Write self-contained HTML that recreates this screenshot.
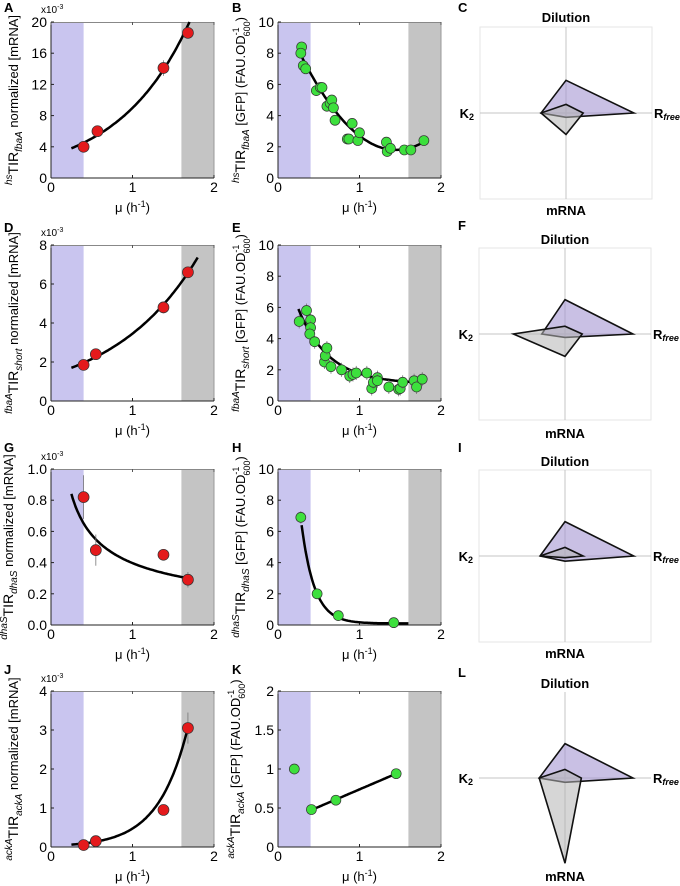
<!DOCTYPE html>
<html><head><meta charset="utf-8"><style>
html,body{margin:0;padding:0;background:#fff;}
svg{display:block;font-family:"Liberation Sans",Arial,sans-serif;}
</style></head><body>
<svg id="fig" width="680" height="886" viewBox="0 0 680 886" xmlns="http://www.w3.org/2000/svg"></svg>
<script>
// ---- Panel A ----
const aX=[0.4,0.57,1.38,1.68];
const aY=[4,6,14.1,18.6];
const aFit=[2.855,1.146,0.25,1.7]; // a*exp(b*x) from x0 to x1
const aTicks=["0","4","8","12","16","20"];
// ---- Panel B ----
const bX=[0.29,0.28,0.31,0.34,0.47,0.52,0.54,0.6,0.64,0.66,0.68,0.7,0.85,0.87,0.91,0.98,1.0,1.33,1.34,1.38,1.55,1.63,1.79];
const bY=[8.4,8.0,7.2,7.0,5.6,5.8,5.8,4.6,4.8,5.0,4.5,3.7,2.5,2.5,3.5,2.4,2.9,2.3,1.7,1.9,1.8,1.8,2.4];
const bFit=[1.8,4.45,1.45,0.28,1.76]; // min + k*(x-xm)^2
const bTicks=["0","2","4","6","8","10"];
// ---- Panel D ----
const dX=[0.4,0.55,1.38,1.68];
const dY=[1.85,2.4,4.8,6.6];
const dFit=[1.343,0.945,0.25,1.8];
const dTicks=["0","2","4","6","8"];
// ---- Panel E ----
const eX=[0.26,0.35,0.4,0.4,0.39,0.45,0.57,0.58,0.6,0.65,0.78,0.88,0.92,0.96,1.09,1.15,1.17,1.22,1.22,1.36,1.48,1.5,1.53,1.67,1.7,1.77];
const eY=[5.1,5.8,5.2,4.7,4.3,3.8,2.5,2.9,3.4,2.2,2.0,1.6,1.7,1.8,1.8,0.8,1.2,1.5,1.3,0.9,0.75,0.8,1.2,1.3,0.9,1.4];
const eFit=[1.1,4.8,2.65,0.25,1.8]; // base + c*exp(-k(x-x0))
const eTicks=["0","2","4","6","8","10"];
// ---- Panel G ----
const gX=[0.4,0.55,1.38,1.68];
const gY=[0.82,0.48,0.45,0.29];
const gErr=[0.14,0.1,0.02,0.05];
const gFit=[0.397,0.541,0.25,1.68]; // a*x^-p
const gTicks=["0.0","0.2","0.4","0.6","0.8","1.0"];
// ---- Panel H ----
const hX=[0.28,0.48,0.74,1.42];
const hY=[6.9,2.0,0.6,0.15];
const hFit=[0.1,6.3,6.3,0.29,1.6];
const hTicks=["0","2","4","6","8","10"];
// ---- Panel J ----
const jX=[0.4,0.55,1.38,1.68];
const jY=[0.05,0.15,0.95,3.05];
const jErr=[0,0,0,0.4];
const jFit=[0.0302,2.75,0.25,1.68];
const jTicks=["0","1","2","3","4"];
// ---- Panel K ----
const kX=[0.2,0.41,0.71,1.45];
const kY=[1.0,0.48,0.6,0.94];
const kLine=[0.4,0.47,1.45,0.94];
const kTicks=["0","0.5","1","1.5","2"];
// ---- Radars (Dilution, Rfree, mRNA, K2) ----
const radarAxes=["Dilution","Rfree","mRNA","K2"];
const cPurple=[0.38,0.79,0.05,0.29], cGrey=[0.1,0.2,0.25,0.29];
const fPurple=[0.4,0.79,0.04,0.27], fGrey=[0.09,0.2,0.26,0.6];
const iPurple=[0.4,0.8,0.06,0.29], iGrey=[0.1,0.21,0.02,0.29];
const lPurple=[0.4,0.79,0.05,0.3], lGrey=[0.1,0.19,0.99,0.3];

const NS="http://www.w3.org/2000/svg";
const svg=document.getElementById('fig');
function el(tag,attrs,parent){const e=document.createElementNS(NS,tag);for(const k in attrs)e.setAttribute(k,attrs[k]);(parent||svg).appendChild(e);return e;}

function letter(t,x,y){const e=el('text',{x:x,y:y,'font-size':13,'font-weight':'bold'});e.textContent=t;

}

function panel(o){
  const W=163,H=156,L=o.left,T=o.top;
  const g=el('g',{});
  
  
  const sx=v=>L+v/2*W, sy=v=>T+H-(v/o.ymax)*H;
  const b1=el('rect',{x:sx(0),y:T,width:sx(0.4)-sx(0),height:H,fill:'#c9c5ef'},g);
  
  
  const b2=el('rect',{x:sx(1.6),y:T,width:sx(2)-sx(1.6),height:H,fill:'#c4c4c4'},g);
  
  
  el('line',{x1:L,y1:T+0.5,x2:L+W,y2:T+0.5,stroke:'#888','stroke-width':1},g);
  el('line',{x1:L+W,y1:T,x2:L+W,y2:T+H,stroke:'#999','stroke-width':1},g);
  el('line',{x1:L,y1:T,x2:L,y2:T+H,stroke:'#222','stroke-width':1},g);
  el('line',{x1:L,y1:T+H,x2:L+W,y2:T+H,stroke:'#222','stroke-width':1},g);
  [0,1,2].forEach(v=>{
    el('line',{x1:sx(v),y1:T+H,x2:sx(v),y2:T+H-3,stroke:'#222'},g);
    el('line',{x1:sx(v),y1:T,x2:sx(v),y2:T+3,stroke:'#555'},g);
    const t=el('text',{x:sx(v),y:T+H+14,'font-size':14,'text-anchor':'middle'},g);t.textContent=v;
    
    
  });
  const xl=el('text',{x:L+W/2,y:T+H+34,'font-size':13,'text-anchor':'middle'},g);
  xl.innerHTML='μ (h<tspan dy="-5" font-size="9">-1</tspan><tspan dy="5">)</tspan>';
  
  
  const n=o.ticks.length;
  o.ticks.forEach((lab,i)=>{
    const v=o.ymax*i/(n-1);
    el('line',{x1:L,y1:sy(v),x2:L+3,y2:sy(v),stroke:'#222'},g);
    const t=el('text',{x:L-4,y:sy(v)+5,'font-size':14,'text-anchor':'end'},g);t.textContent=lab;
    
    
  });
  if(o.exp){const t=el('text',{x:L-10,y:T-9,'font-size':10},g);t.innerHTML='x10<tspan dy="-4" font-size="7">-3</tspan>';
    
    }
  const yt=el('text',{transform:`translate(${L-o.ylOff},${T+H/2}) rotate(-90)`,'font-size':13,'text-anchor':'middle'},g);
  yt.innerHTML=o.ylabel;
  
  
  if(o.fit){
    let d='';const [x0,x1]=o.range;
    for(let i=0;i<=80;i++){const x=x0+(x1-x0)*i/80;let y=o.fit(x);if(y>o.ymax)y=o.ymax;d+=(i?'L':'M')+sx(x).toFixed(1)+','+sy(y).toFixed(1);}
    const p=el('path',{d:d,fill:'none',stroke:'#000','stroke-width':2.5},g);
    
    
  }
  o.xs.forEach((x,i)=>{
    const y=o.ys[i];
    const err=o.err?o.err[i]:(o.defErr||0);
    if(err>0){const e=el('line',{x1:sx(x),y1:sy(y+err),x2:sx(x),y2:sy(Math.max(0,y-err)),stroke:'#777','stroke-width':0.8},g);
      
      }
    const c=el('circle',{cx:sx(x),cy:sy(y),r:o.r||5,fill:o.color,stroke:'#333','stroke-width':0.7},g);
    
    
  });
}
const mrnaLab=(sup,sub)=>`<tspan font-size="10" font-style="italic" dy="-6">${sup}</tspan><tspan font-size="14" dy="6">TIR</tspan><tspan font-size="10" font-style="italic" dy="4">${sub}</tspan><tspan dy="-4"> normalized [mRNA]</tspan>`;
const gfpLab=(sup,sub)=>`<tspan font-size="10" font-style="italic" dy="-6">${sup}</tspan><tspan font-size="14" dy="6">TIR</tspan><tspan font-size="10" font-style="italic" dy="4">${sub}</tspan><tspan dy="-4"> [GFP] (FAU.OD</tspan><tspan font-size="9" dy="-6">-1</tspan><tspan font-size="9" dx="-9" dy="11">600</tspan><tspan dy="-5">)</tspan>`;
const RED='#e41a1c',GRN='#3de03d';
const tops=[22,245,469,691];
panel({name:'panel-a-chart',left:51,top:tops[0],ymax:20,ticks:aTicks,exp:true,ylOff:33,ylabel:mrnaLab('hs','fbaA'),xs:aX,ys:aY,color:RED,r:5.5,fit:x=>aFit[0]*Math.exp(aFit[1]*x),range:[aFit[2],aFit[3]],err:[0,0,1,0.3]});
panel({name:'panel-b-chart',left:278,top:tops[0],ymax:10,ticks:bTicks,ylOff:33,ylabel:gfpLab('hs','fbaA'),xs:bX,ys:bY,color:GRN,r:5,fit:x=>bFit[0]+bFit[1]*(x-bFit[2])**2,range:[bFit[3],bFit[4]]});
panel({name:'panel-d-chart',left:51,top:tops[1],ymax:8,ticks:dTicks,exp:true,ylOff:33,ylabel:mrnaLab('fbaA','short'),xs:dX,ys:dY,color:RED,r:5.5,fit:x=>dFit[0]*Math.exp(dFit[1]*x),range:[dFit[2],dFit[3]],err:[0,0,0.3,0]});
panel({name:'panel-e-chart',left:278,top:tops[1],ymax:10,ticks:eTicks,ylOff:33,ylabel:gfpLab('fbaA','short'),xs:eX,ys:eY,color:GRN,r:5,defErr:0.45,fit:x=>eFit[0]+eFit[1]*Math.exp(-eFit[2]*(x-eFit[3])),range:[eFit[3],eFit[4]]});
panel({name:'panel-g-chart',left:51,top:tops[2],ymax:1,ticks:gTicks,exp:true,ylOff:38,ylabel:mrnaLab('dhaS','dhaS'),xs:gX,ys:gY,color:RED,r:5.5,err:gErr,fit:x=>gFit[0]*Math.pow(x,-gFit[1]),range:[gFit[2],gFit[3]]});
panel({name:'panel-h-chart',left:278,top:tops[2],ymax:10,ticks:hTicks,ylOff:33,ylabel:gfpLab('dhaS','dhaS'),xs:hX,ys:hY,color:GRN,r:5,err:[0.4,0,0,0],fit:x=>hFit[0]+hFit[1]*Math.exp(-hFit[2]*(x-hFit[3])),range:[hFit[3],hFit[4]]});
panel({name:'panel-j-chart',left:51,top:tops[3],ymax:4,ticks:jTicks,exp:true,ylOff:33,ylabel:mrnaLab('ackA','ackA'),xs:jX,ys:jY,color:RED,r:5.5,err:jErr,fit:x=>jFit[0]*Math.exp(jFit[1]*x),range:[jFit[2],jFit[3]]});
panel({name:'panel-k-chart',left:278,top:tops[3],ymax:2,ticks:kTicks,ylOff:38,ylabel:gfpLab('ackA','ackA'),xs:kX,ys:kY,color:GRN,r:5,fit:x=>kLine[1]+(kLine[3]-kLine[1])*(x-kLine[0])/(kLine[2]-kLine[0]),range:[kLine[0],kLine[2]]});

function radar(name,cx,cy,box,purple,grey,lblTop,lblBot){
  const g=el('g',{});
  
  
  const R=86;
  if(box) el('rect',{x:cx-R,y:cy-R,width:2*R,height:2*R,fill:'none',stroke:'#e6e6e6'},g);
  el('line',{x1:cx-R,y1:cy,x2:cx+R,y2:cy,stroke:'#c4c4c4'},g);
  el('line',{x1:cx,y1:cy-R,x2:cx,y2:cy+R,stroke:'#c4c4c4'},g);
  const pts=v=>[[cx,cy-v[0]*R],[cx+v[1]*R,cy],[cx,cy+v[2]*R],[cx-v[3]*R,cy]].map(p=>p.join(',')).join(' ');
  const p1=el('polygon',{points:pts(purple),fill:'rgba(165,150,210,0.6)',stroke:'#111','stroke-width':1.6},g);
  
  
  const p2=el('polygon',{points:pts(grey),fill:'rgba(180,180,180,0.55)',stroke:'#111','stroke-width':1.6},g);
  
  
  const mk=(t,x,y,anc,nm)=>{const e=el('text',{x:x,y:y,'font-size':13,'font-weight':'bold','text-anchor':anc},g);e.innerHTML=t;
    
    };
  mk(radarAxes[0],cx,lblTop,'middle','axis-label-dilution');
  mk(radarAxes[2],cx,lblBot,'middle','axis-label-mrna');
  mk('R<tspan font-size="9" font-style="italic" dy="2">free</tspan>',cx+R+2,cy+5,'start','axis-label-rfree');
  mk('K<tspan font-size="9" dy="2">2</tspan>',cx-R-6,cy+5,'end','axis-label-k2');
}
radar('panel-c-radar',566,113,true,cPurple,cGrey,22,215);
radar('panel-f-radar',565,334,true,fPurple,fGrey,244,438);
radar('panel-i-radar',565,556,true,iPurple,iGrey,466,658);
radar('panel-l-radar',565,778,false,lPurple,lGrey,688,881);

letter('A',4,12);letter('B',232,12);letter('C',458,12);
letter('D',4,232);letter('E',232,232);letter('F',458,230);
letter('G',4,452);letter('H',232,452);letter('I',458,452);
letter('J',4,674);letter('K',232,674);letter('L',458,677);
</script>
</body></html>
